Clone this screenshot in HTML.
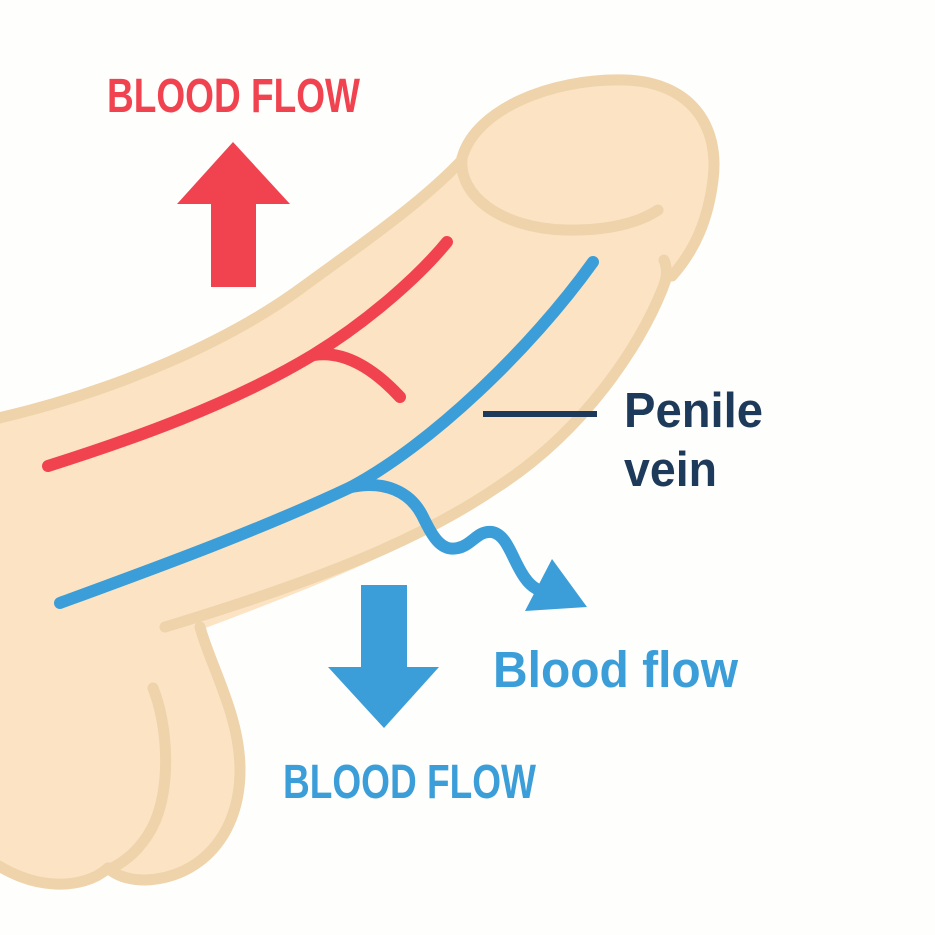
<!DOCTYPE html>
<html>
<head>
<meta charset="utf-8">
<style>
  html,body{margin:0;padding:0;background:#fefefc;}
  svg{display:block;}
</style>
</head>
<body>
<svg width="935" height="935" viewBox="0 0 935 935" xmlns="http://www.w3.org/2000/svg">
  <rect width="935" height="935" fill="#fefefc"/>

  <!-- body fill -->
  <path d="M-5,413 C120,385 230,335 300,284 C350,247 420,200 457,163 C470,105 550,73 625,75 C695,77 725,125 718,180 C713,222 700,252 672,280 C645,340 585,432 499,490 C420,545 320,585 200,630 C215,665 245,720 245,770 C245,838 205,882 145,885 C125,885 112,879 108,873 C95,885 75,890 55,888 C30,885 10,875 -5,865 Z" fill="#fce3c3"/>

  <g fill="none" stroke="#eed3ab" stroke-width="11" stroke-linecap="round" stroke-linejoin="round">
    <!-- shaft top -->
    <path d="M-5,419 C120,390 230,340 300,289 C350,252 420,205 462,160"/>
    <!-- glans outline -->
    <path d="M462,158 C475,110 550,78 625,80 C690,82 720,125 713,180 C708,220 695,250 672,276"/>
    <!-- corona -->
    <path d="M462,158 C458,195 500,228 565,230 C610,231 640,222 658,210"/>
    <!-- shaft bottom -->
    <path d="M664,260 C668,270 667,278 662,290 C640,345 585,430 499,486 C420,540 320,580 165,627"/>
    <!-- scrotum right -->
    <path d="M200,627 C210,665 240,715 240,770 C240,835 200,878 145,880 C128,880 115,875 108,868"/>
    <!-- scrotum left ball -->
    <path d="M108,868 C95,880 75,885 55,884 C30,883 10,873 -8,862"/>
    <!-- inner line -->
    <path d="M153,688 C168,725 172,790 152,828 C140,850 125,862 108,870"/>
  </g>

  <!-- red artery -->
  <g fill="none" stroke="#f1434f" stroke-width="12" stroke-linecap="round" stroke-linejoin="round">
    <path d="M48,466 C130,440 230,405 313,355 C370,320 420,275 447,242"/>
    <path d="M314,355 C345,350 375,370 400,397"/>
  </g>

  <!-- blue vein -->
  <g fill="none" stroke="#3b9ed8" stroke-width="12" stroke-linecap="round" stroke-linejoin="round">
    <path d="M60,603 C150,570 260,530 351,487 C430,445 530,350 593,262"/>
    <path d="M351,487 C385,480 410,492 422,515 C432,535 440,552 458,548 C472,545 478,530 492,532 C508,535 512,560 525,578 C532,588 540,592 550,592"/>
  </g>
  <polygon points="552,559 587,607 525,611" fill="#3b9ed8"/>

  <!-- red up arrow -->
  <polygon points="233,142 290,204 256,204 256,287 211,287 211,204 177,204" fill="#f1434f"/>
  <!-- blue down arrow -->
  <polygon points="361,585 407,585 407,667 439,667 384,728 328,667 361,667" fill="#3b9ed8"/>

  <!-- leader line -->
  <line x1="483" y1="414" x2="597" y2="414" stroke="#1e3a5a" stroke-width="6"/>

  <!-- texts -->
  <text x="107" y="112" font-family="'Liberation Sans Narrow','Liberation Sans',sans-serif" font-weight="bold" font-size="48" fill="#f1434f" textLength="253" lengthAdjust="spacingAndGlyphs">BLOOD FLOW</text>
  <text x="283" y="798" font-family="'Liberation Sans Narrow','Liberation Sans',sans-serif" font-weight="bold" font-size="48" fill="#3b9ed8" textLength="253" lengthAdjust="spacingAndGlyphs">BLOOD FLOW</text>
  <text x="493" y="687" font-family="'Liberation Sans',sans-serif" font-weight="bold" font-size="51" fill="#3b9ed8" textLength="245" lengthAdjust="spacingAndGlyphs">Blood flow</text>
  <text x="624" y="427" font-family="'Liberation Sans',sans-serif" font-weight="bold" font-size="49" fill="#1e3a5a" textLength="139" lengthAdjust="spacingAndGlyphs">Penile</text>
  <text x="624" y="486" font-family="'Liberation Sans',sans-serif" font-weight="bold" font-size="49" fill="#1e3a5a" textLength="93" lengthAdjust="spacingAndGlyphs">vein</text>
</svg>
</body>
</html>
